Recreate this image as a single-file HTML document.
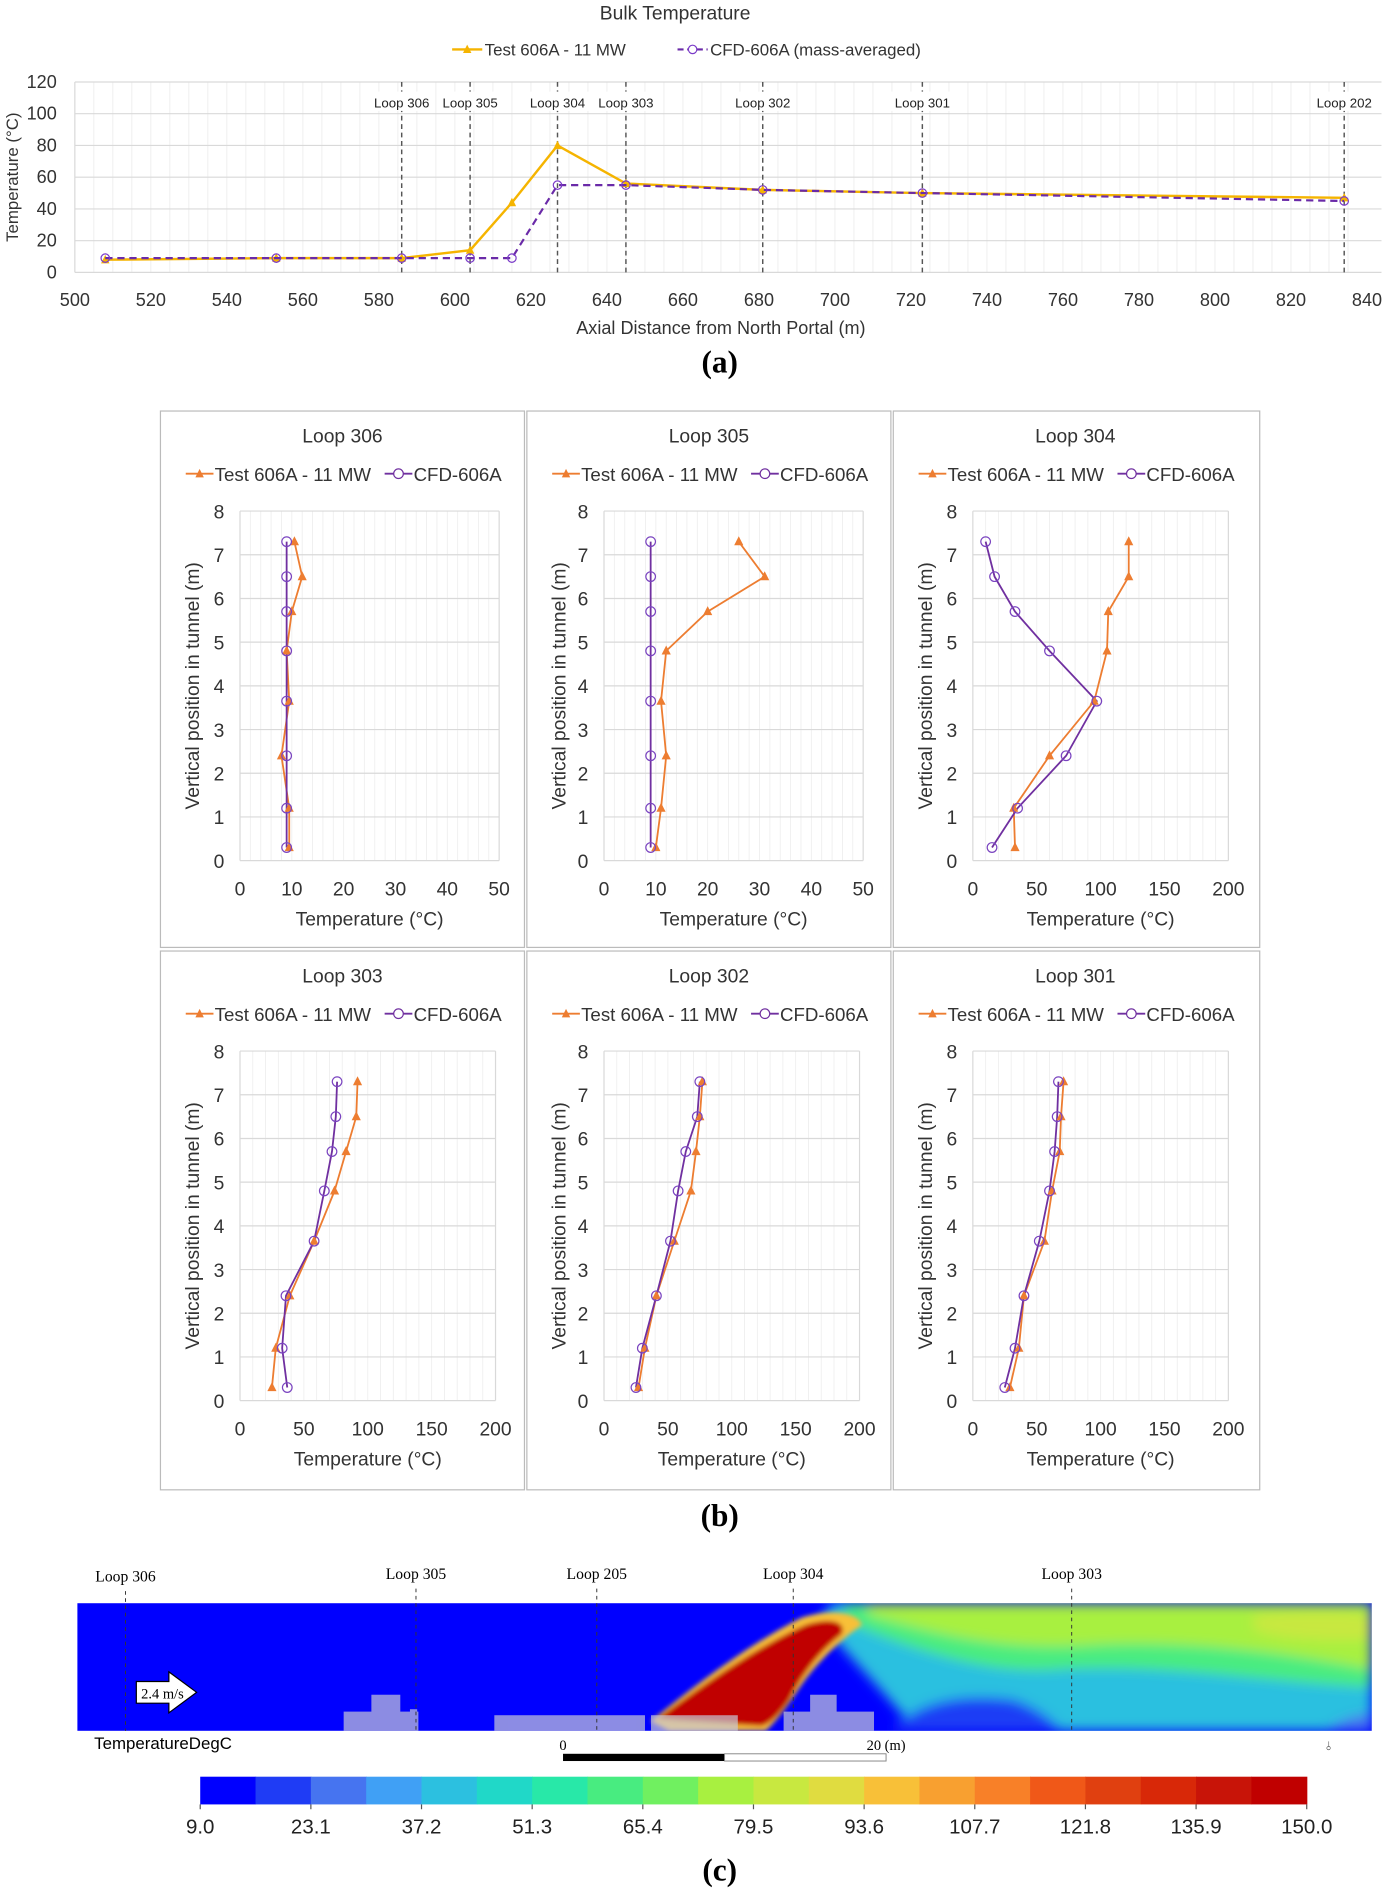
<!DOCTYPE html>
<html><head><meta charset="utf-8"><style>
html,body{margin:0;padding:0;background:#fff}
svg{display:block;font-family:"Liberation Sans",sans-serif}
</style></head><body>
<svg id="root" width="1384" height="1890" viewBox="0 0 1148 1568" xmlns="http://www.w3.org/2000/svg">
<defs>
<filter id="blur" x="-20%" y="-20%" width="140%" height="140%"><feGaussianBlur stdDeviation="5"/></filter>
<filter id="blur2" x="-20%" y="-20%" width="140%" height="140%"><feGaussianBlur stdDeviation="2"/></filter>
<clipPath id="cclip"><rect x="64" y="1330" width="1074" height="106"/></clipPath>
</defs>
<g id="pa"></g>
<text x="597" y="309" text-anchor="middle" font-family="Liberation Serif,serif" font-weight="bold" font-size="26">(a)</text>
<g id="pb"></g>
<text x="597" y="1266" text-anchor="middle" font-family="Liberation Serif,serif" font-weight="bold" font-size="26">(b)</text>
<g id="pc">
 <g clip-path="url(#cclip)">
  <rect x="64" y="1330" width="1074" height="106" fill="#0000ff"/>
  <g filter="url(#blur)">
   <path d="M690,1330 L1138,1330 L1138,1436 L760,1436 C730,1400 700,1370 680,1345 Z" fill="#2cc0e0"/>
   <path d="M700,1330 L1138,1330 L1138,1400 C1050,1395 960,1380 880,1385 C820,1390 760,1370 700,1345 Z" fill="#48ec80"/>
   <path d="M720,1330 L1138,1330 L1138,1385 C1060,1370 980,1360 900,1365 C820,1370 760,1350 720,1340 Z" fill="#a8f040"/>
   <path d="M1040,1340 C1080,1335 1120,1336 1138,1340 L1138,1360 C1100,1362 1060,1360 1040,1352 Z" fill="#c8e840"/>
   <path d="M740,1436 C760,1410 800,1405 840,1410 C870,1420 880,1436 880,1436 Z" fill="#1f3cf5"/>
   <path d="M1100,1436 C1115,1425 1130,1422 1138,1422 L1138,1436 Z" fill="#4674f0"/>
  </g>
  <g filter="url(#blur2)">
   <path d="M540,1428 C580,1395 625,1362 665,1342 C690,1334 712,1338 715,1348 C695,1362 675,1382 662,1402 C650,1420 642,1430 635,1436 L555,1436 Z" fill="#f8c038"/>
   <path d="M545,1426 C585,1396 628,1366 668,1348 C690,1341 703,1346 698,1356 C680,1370 665,1390 655,1410 C645,1425 638,1430 632,1432 L565,1428 Z" fill="#c00000"/>
  </g>
  <g fill="#c8c8d8" opacity="0.7">
   <rect x="285" y="1420" width="62" height="16"/><rect x="308" y="1406" width="24" height="16"/><rect x="340" y="1418" width="6" height="8"/>
   <rect x="410" y="1423" width="125" height="13"/><rect x="540" y="1423" width="72" height="13"/>
   <rect x="650" y="1420" width="75" height="16"/><rect x="672" y="1406" width="22" height="16"/>
  </g>
 </g>
 <g stroke="#333" stroke-dasharray="3,3" stroke-width="0.8">
  <line x1="104" y1="1320" x2="104" y2="1436"/><line x1="345" y1="1318" x2="345" y2="1436"/><line x1="495" y1="1318" x2="495" y2="1436"/><line x1="658" y1="1318" x2="658" y2="1436"/><line x1="889" y1="1318" x2="889" y2="1436"/>
 </g>
 <g font-family="Liberation Serif,serif" font-size="13" text-anchor="middle">
  <text x="104" y="1312">Loop 306</text><text x="345" y="1310">Loop 305</text><text x="495" y="1310">Loop 205</text><text x="658" y="1310">Loop 304</text><text x="889" y="1310">Loop 303</text>
 </g>
 <path d="M113,1395 L140,1395 L140,1387 L163,1404 L140,1421 L140,1413 L113,1413 Z" fill="#fff" stroke="#000"/>
 <text x="117" y="1409" font-family="Liberation Serif,serif" font-size="12">2.4 m/s</text>
 <text x="78" y="1451" font-size="14">TemperatureDegC</text>
 <text x="467" y="1452" font-family="Liberation Serif,serif" font-size="12" text-anchor="middle">0</text>
 <text x="735" y="1452" font-family="Liberation Serif,serif" font-size="12" text-anchor="middle">20 (m)</text>
 <rect x="467" y="1455" width="134" height="6" fill="#000"/>
 <rect x="601" y="1455" width="134" height="6" fill="#fff" stroke="#888" stroke-width="0.8"/>
 <text x="1100" y="1452" font-size="10" fill="#444">⫰</text>
 <g id="cbar"></g>
</g>
<text x="597" y="1560" text-anchor="middle" font-family="Liberation Serif,serif" font-weight="bold" font-size="26">(c)</text>
</svg>
<script>
// ---------- Panel (a) data ----------
const aTestX = [508,553,586,604,615,627,645,681,723,834];
const aTestY = [8,9,9,14,44,80,56,52,50,47];
const aCfdX = [508,553,586,604,615,627,645,681,723,834];
const aCfdY = [9,9,9,9,9,55,55,52,50,45];
const aLoopNames = ["Loop 306","Loop 305","Loop 304","Loop 303","Loop 302","Loop 301","Loop 202"];
const aLoopX = [586,604,627,645,681,723,834];
const aXTicks = [500,520,540,560,580,600,620,640,660,680,700,720,740,760,780,800,820,840];
const aYTicks = [0,20,40,60,80,100,120];
// ---------- Panel (b) data ----------
const bHeights = [0.3,1.2,2.4,3.65,4.8,5.7,6.5,7.3];
const bTitles = ["Loop 306","Loop 305","Loop 304","Loop 303","Loop 302","Loop 301"];
const bXMax = [50,50,200,200,200,200];
const test306 = [9.5,9.5,8,9.5,9,10,12,10.5];
const cfd306 = [9,9,9,9,9,9,9,9];
const test305 = [10,11,12,11,12,20,31,26];
const cfd305 = [9,9,9,9,9,9,9,9];
const test304 = [33,32,60,95,105,106,122,122];
const cfd304 = [15,35,73,97,60,33,17,10];
const test303 = [25,28,39,58,74,83,91,92];
const cfd303 = [37,33,36,58,66,72,75,76];
const test302 = [27,32,41,55,68,72,75,77];
const cfd302 = [25,30,41,52,58,64,73,75];
const test301 = [29,36,40,56,62,68,69,71];
const cfd301 = [25,33,40,52,60,64,66,67];
const bTests = [test306,test305,test304,test303,test302,test301];
const bCfds = [cfd306,cfd305,cfd304,cfd303,cfd302,cfd301];
const bYTicks = [0,1,2,3,4,5,6,7,8];
const xTicks50 = [0,10,20,30,40,50];
const xTicks200 = [0,50,100,150,200];
// ---------- Colorbar ----------
const cbColors = ["#0000ff","#1f3cf5","#4674f0","#40a0f5","#2cc0e0","#20d8c8","#28e8a8","#48ec80","#70f060","#a8f040","#c8e840","#e0dc40","#f8c038","#f8a030","#f88028","#f05818","#e04010","#d82808","#c81408","#c00000"];
const cbLabels = ["9.0","23.1","37.2","51.3","65.4","79.5","93.6","107.7","121.8","135.9","150.0"];

const NS="http://www.w3.org/2000/svg";
function mk(parent,tag,attrs,text){const e=document.createElementNS(NS,tag);for(const k in attrs)e.setAttribute(k,attrs[k]);if(text!==undefined)e.textContent=text;parent.appendChild(e);return e;}

// ===== Panel A =====
(function(){
 const g=document.getElementById('pa');
 const x0=62,x1=1134,yT=68,yB=226;
 const sx=v=>x0+(v-500)/340*(x1-x0);
 const sy=v=>yB-v/120*(yB-yT);
 const t=mk(g,'text',{x:560,y:16,'text-anchor':'middle','font-size':16,fill:'#333'},'Bulk Temperature');
 
 
 for(let v=505;v<840;v+=5){mk(g,'line',{x1:sx(v),x2:sx(v),y1:yT,y2:yB,stroke:'#ececec','stroke-width':0.7});}
 aYTicks.forEach(v=>{mk(g,'line',{x1:x0,x2:1146,y1:sy(v),y2:sy(v),stroke:'#d9d9d9','stroke-width':1});
  const l=mk(g,'text',{x:47,y:sy(v)+5,'text-anchor':'end','font-size':15,fill:'#333'},v);
  
  });
 mk(g,'line',{x1:x0,x2:x0,y1:yT,y2:yB,stroke:'#d9d9d9'});
 aXTicks.forEach(v=>{const l=mk(g,'text',{x:sx(v),y:254,'text-anchor':'middle','font-size':15,fill:'#333'},v);
  
  });
 const xt=mk(g,'text',{x:598,y:277,'text-anchor':'middle','font-size':15,fill:'#333'},'Axial Distance from North Portal (m)');
 
 
 const yt=mk(g,'text',{x:0,y:0,transform:'translate(15,147) rotate(-90)','text-anchor':'middle','font-size':14,fill:'#333'},'Temperature (°C)');
 
 
 aLoopX.forEach((v,i)=>{const ln=mk(g,'line',{x1:sx(v),x2:sx(v),y1:yT,y2:yB,stroke:'#555','stroke-dasharray':'4,3','stroke-width':1.2});
  
  
  mk(g,'rect',{x:sx(v)-26,y:76,width:52,height:16,fill:'#fff'});
  const l=mk(g,'text',{x:sx(v),y:89,'text-anchor':'middle','font-size':11,fill:'#222'},aLoopNames[i]);
  
  });
 const cp=aCfdX.map((v,i)=>sx(v)+','+sy(aCfdY[i])).join(' ');
 const tp=aTestX.map((v,i)=>sx(v)+','+sy(aTestY[i])).join(' ');
 const lt=mk(g,'polyline',{points:tp,fill:'none',stroke:'#f5b400','stroke-width':2});
 
 
 aTestX.forEach((v,i)=>{const x=sx(v),y=sy(aTestY[i]);const m=mk(g,'polygon',{points:`${x},${y-4} ${x-3.5},${y+3} ${x+3.5},${y+3}`,fill:'#f5b400'});
  
  });
 const lc=mk(g,'polyline',{points:cp,fill:'none',stroke:'#6a2aa8','stroke-width':1.8,'stroke-dasharray':'6,4'});
 
 
 aCfdX.forEach((v,i)=>{const m=mk(g,'circle',{cx:sx(v),cy:sy(aCfdY[i]),r:3.5,fill:'none',stroke:'#7a3ac8','stroke-width':1});
  
  });
 const lg=mk(g,'g',{});
 
 
 mk(lg,'line',{x1:375,x2:400,y1:41,y2:41,stroke:'#f5b400','stroke-width':2});
 mk(lg,'polygon',{points:'387.5,37 384,44 391,44',fill:'#f5b400'});
 mk(lg,'text',{x:402,y:46,'font-size':14,fill:'#333'},'Test 606A - 11 MW');
 mk(lg,'line',{x1:562,x2:587,y1:41,y2:41,stroke:'#6a2aa8','stroke-width':1.8,'stroke-dasharray':'5,3'});
 mk(lg,'circle',{cx:574.5,cy:41,r:3.5,fill:'#fff',stroke:'#7a3ac8'});
 mk(lg,'text',{x:589,y:46,'font-size':14,fill:'#333'},'CFD-606A (mass-averaged)');
})();

// ===== Panel B =====
(function(){
 const g=document.getElementById('pb');
 const boxX=[133,437,741], boxY=[341,789], boxW=[302,302,304], boxH=[445,447];
 for(let i=0;i<6;i++){
  const c=i%3,r=Math.floor(i/3);
  const bx=boxX[c],by=boxY[r];
  const sub=mk(g,'g',{});
  
  
  mk(sub,'rect',{x:bx,y:by,width:boxW[c],height:boxH[r],fill:'#fff',stroke:'#bbb','stroke-width':1});
  const px0=bx+(c===0?66:c===1?64:66), px1=px0+(bXMax[i]===50?215:212);
  const pyB=by+373, pyT=by+83;
  const xmax=bXMax[i];
  const sx=v=>px0+v/xmax*(px1-px0);
  const sy=v=>pyB-v/8*(pyB-pyT);
  const minor=xmax===50?2:10;
  for(let v=minor;v<xmax;v+=minor) mk(sub,'line',{x1:sx(v),x2:sx(v),y1:pyT,y2:pyB,stroke:'#eeeeee','stroke-width':0.7});
  bYTicks.forEach(v=>{mk(sub,'line',{x1:px0,x2:px1,y1:sy(v),y2:sy(v),stroke:'#d9d9d9'});
   const l=mk(sub,'text',{x:px0-13,y:sy(v)+6,'text-anchor':'end','font-size':16,fill:'#333'},v);
   
   });
  mk(sub,'line',{x1:px0,x2:px0,y1:pyT,y2:pyB,stroke:'#d9d9d9'});
  mk(sub,'line',{x1:px1,x2:px1,y1:pyT,y2:pyB,stroke:'#d9d9d9'});
  (xmax===50?xTicks50:xTicks200).forEach(v=>{const l=mk(sub,'text',{x:sx(v),y:pyB+29,'text-anchor':'middle','font-size':16,fill:'#333'},v);
   
   });
  const ti=mk(sub,'text',{x:bx+151,y:by+26,'text-anchor':'middle','font-size':16,fill:'#333'},bTitles[i]);
  
  
  const xt=mk(sub,'text',{x:(px0+px1)/2,y:pyB+54,'text-anchor':'middle','font-size':16,fill:'#333'},'Temperature (°C)');
  
  
  const yt=mk(sub,'text',{x:0,y:0,transform:`translate(${bx+32},${(pyT+pyB)/2}) rotate(-90)`,'text-anchor':'middle','font-size':16,fill:'#333'},'Vertical position in tunnel (m)');
  
  
  const lx=bx+21, ly=by+52;
  const lg=mk(sub,'g',{});
  
  
  mk(lg,'line',{x1:lx,x2:lx+23,y1:ly,y2:ly,stroke:'#ed7d31','stroke-width':1.6});
  mk(lg,'polygon',{points:`${lx+11.5},${ly-4} ${lx+8},${ly+3} ${lx+15},${ly+3}`,fill:'#ed7d31'});
  mk(lg,'text',{x:lx+24,y:ly+6,'font-size':15.5,fill:'#333'},'Test 606A - 11 MW');
  mk(lg,'line',{x1:lx+165,x2:lx+188,y1:ly,y2:ly,stroke:'#7030a0','stroke-width':1.6});
  mk(lg,'circle',{cx:lx+176.5,cy:ly,r:4,fill:'#fff',stroke:'#7030a0'});
  mk(lg,'text',{x:lx+189,y:ly+6,'font-size':15.5,fill:'#333'},'CFD-606A');
  const tv=bTests[i], cv=bCfds[i];
  const lt=mk(sub,'polyline',{points:bHeights.map((h,k)=>sx(tv[k])+','+sy(h)).join(' '),fill:'none',stroke:'#ed7d31','stroke-width':1.5});
  
  
  const lc=mk(sub,'polyline',{points:bHeights.map((h,k)=>sx(cv[k])+','+sy(h)).join(' '),fill:'none',stroke:'#7030a0','stroke-width':1.5});
  
  
  bHeights.forEach((h,k)=>{const x=sx(tv[k]),y=sy(h);
   const m=mk(sub,'polygon',{points:`${x},${y-4.5} ${x-3.8},${y+3} ${x+3.8},${y+3}`,fill:'#ed7d31'});
   
   
   const c2=mk(sub,'circle',{cx:sx(cv[k]),cy:y,r:4,fill:'none',stroke:'#7a44c0','stroke-width':1});
   
   });
 }
})();

// ===== Colorbar =====
(function(){
 const g=document.getElementById('cbar');
 const x0=166,x1=1084,w=(x1-x0)/cbColors.length;
 cbColors.forEach((c,i)=>{const r=mk(g,'rect',{x:x0+i*w,y:1474,width:w+0.5,height:23,fill:c});
  
  });
 cbLabels.forEach((t,i)=>{const x=x0+i*(x1-x0)/(cbLabels.length-1);
  mk(g,'line',{x1:x,x2:x,y1:1497,y2:1501,stroke:'#555'});
  const l=mk(g,'text',{x:x,y:1521,'text-anchor':'middle','font-size':17,fill:'#222'},t);
  
  });
})();
</script>
</body></html>
